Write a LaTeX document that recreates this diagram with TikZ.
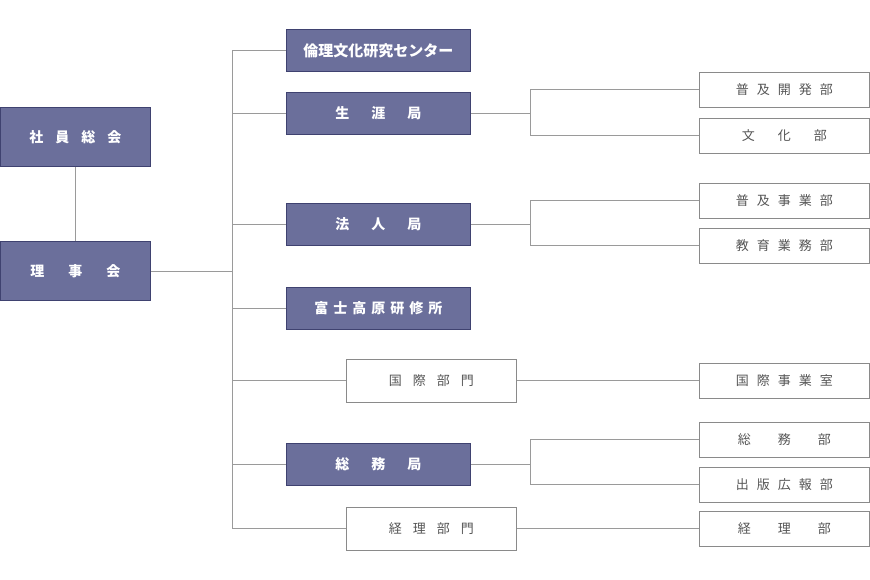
\documentclass[tikz,border=0pt]{standalone}
\usepackage{fontspec}
\setmainfont{Noto Sans CJK JP}
\newfontfamily\jp{Noto Sans CJK JP}
\newcommand{\G}[1]{\hspace*{#1pt}}
\definecolor{boxfill}{HTML}{6B6F9B}
\definecolor{boxedge}{HTML}{3F4270}
\definecolor{linegray}{HTML}{9A9A9A}
\definecolor{txtgray}{HTML}{555555}
\definecolor{edgegray}{HTML}{8A8A8A}
\tikzset{
  darkbox/.style={draw=boxedge, line width=0.8pt, fill=boxfill, text=white, font=\jp\bfseries\fontsize{14}{16}\selectfont, inner sep=0pt, anchor=north west},
  whitebox/.style={draw=edgegray, line width=0.7pt, fill=white, text=txtgray, font=\jp\fontsize{13}{16}\selectfont, inner sep=0pt, anchor=north west},
  conn/.style={draw=linegray, line width=0.8pt}
}
\begin{document}
\begin{tikzpicture}[x=1pt,y=-1pt]
\useasboundingbox (0,0) rectangle (870,580);
% left
\node[darkbox, minimum width=150pt, minimum height=59pt] (sy) at (0,107) {社\G{12}員\G{12}総\G{12}会};
\node[darkbox, minimum width=150pt, minimum height=59pt] (rj) at (0,241) {理\G{24}事\G{24}会};
% middle
\node[darkbox, minimum width=184pt, minimum height=42pt] (rinri) at (286,29) {\fontsize{15}{17}\selectfont 倫理文化研究センター};
\node[darkbox, minimum width=184pt, minimum height=42pt] (shogai) at (286,92) {生\G{22}涯\G{22}局};
\node[darkbox, minimum width=184pt, minimum height=42pt] (hojin) at (286,203) {法\G{22}人\G{22}局};
\node[darkbox, minimum width=184pt, minimum height=42pt] (fuji) at (286,287) {富\G{5}士\G{5}高\G{5}原\G{5}研\G{5}修\G{5}所};
\node[whitebox, minimum width=170pt, minimum height=43pt] (kokusai) at (346,359) {国\G{11}際\G{11}部\G{11}門};
\node[darkbox, minimum width=184pt, minimum height=42pt] (somu) at (286,443) {総\G{22}務\G{22}局};
\node[whitebox, minimum width=170pt, minimum height=43pt] (keiri) at (346,507) {経\G{11}理\G{11}部\G{11}門};
% right
\node[whitebox, minimum width=170pt, minimum height=35pt] (fukyu) at (699,72) {普\G{8}及\G{8}開\G{8}発\G{8}部};
\node[whitebox, minimum width=170pt, minimum height=35pt] (bunka) at (699,118) {文\G{23}化\G{23}部};
\node[whitebox, minimum width=170pt, minimum height=35pt] (fjigyo) at (699,183) {普\G{8}及\G{8}事\G{8}業\G{8}部};
\node[whitebox, minimum width=170pt, minimum height=35pt] (kyoiku) at (699,228) {教\G{8}育\G{8}業\G{8}務\G{8}部};
\node[whitebox, minimum width=170pt, minimum height=35pt] (kjigyo) at (699,363) {国\G{8}際\G{8}事\G{8}業\G{8}室};
\node[whitebox, minimum width=170pt, minimum height=35pt] (somubu) at (699,422) {総\G{27}務\G{27}部};
\node[whitebox, minimum width=170pt, minimum height=35pt] (shuppan) at (699,467) {出\G{8}版\G{8}広\G{8}報\G{8}部};
\node[whitebox, minimum width=170pt, minimum height=35pt] (keiribu) at (699,511) {経\G{27}理\G{27}部};
% coordinates
\coordinate (trunk) at (232,0);
\coordinate (br) at (530,0);
% connectors
\draw[conn] (sy.south) -- (rj.north);
\draw[conn] (rj.east) -- (rj.east -| trunk);
\draw[conn] (rinri.west -| trunk) -- (keiri.west -| trunk);
\draw[conn] (rinri.west) -- (rinri.west -| trunk);
\draw[conn] (shogai.west) -- (shogai.west -| trunk);
\draw[conn] (hojin.west) -- (hojin.west -| trunk);
\draw[conn] (fuji.west) -- (fuji.west -| trunk);
\draw[conn] (kokusai.west) -- (kokusai.west -| trunk);
\draw[conn] (somu.west) -- (somu.west -| trunk);
\draw[conn] (keiri.west) -- (keiri.west -| trunk);
% branches
\draw[conn] (shogai.east) -- (shogai.east -| br);
\draw[conn] (fukyu.west) -- (fukyu.west -| br) -- (bunka.west -| br) -- (bunka.west);
\draw[conn] (hojin.east) -- (hojin.east -| br);
\draw[conn] (fjigyo.west) -- (fjigyo.west -| br) -- (kyoiku.west -| br) -- (kyoiku.west);
\draw[conn] (kokusai.east) -- (kokusai.east -| kjigyo.west);
\draw[conn] (somu.east) -- (somu.east -| br);
\draw[conn] (somubu.west) -- (somubu.west -| br) -- (shuppan.west -| br) -- (shuppan.west);
\draw[conn] (keiri.east) -- (keiri.east -| keiribu.west);
\end{tikzpicture}
\end{document}
